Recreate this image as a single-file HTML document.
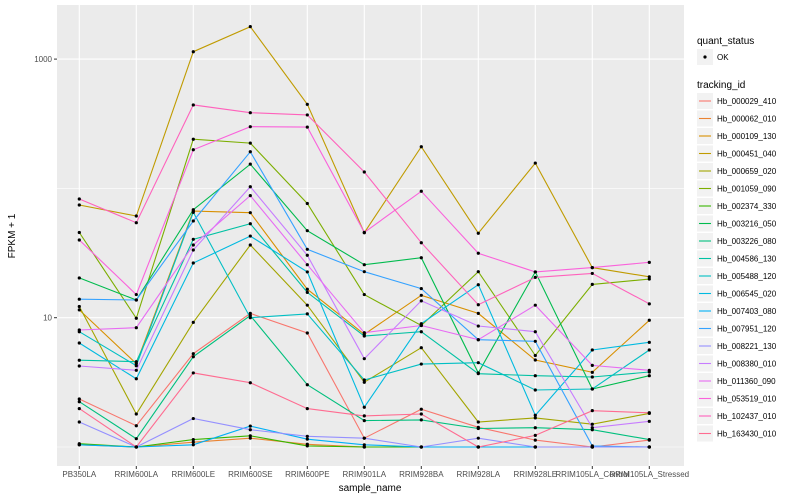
<!DOCTYPE html>
<html><head><meta charset="utf-8"><style>
html,body{margin:0;padding:0;background:#fff}
svg{display:block;font-family:"Liberation Sans",sans-serif}
</style></head><body>
<svg id="chart" width="800" height="500" xmlns="http://www.w3.org/2000/svg">
<rect x="0" y="0" width="800" height="500" fill="#fff"/>
<rect x="57" y="5" width="627" height="461" fill="#ebebeb"/>
<g id="grid"></g><g id="lines"></g><g id="points"></g><g id="axes"></g><g id="legend"></g>
</svg>
<script>
const categories = ["PB350LA","RRIM600LA","RRIM600LE","RRIM600SE","RRIM600PE","RRIM901LA","RRIM928BA","RRIM928LA","RRIM928LE","RRIM105LA_Control","RRIM105LA_Stressed"];
const seriesNames = ["Hb_000029_410","Hb_000062_010","Hb_000109_130","Hb_000451_040","Hb_000659_020","Hb_001059_090","Hb_002374_330","Hb_003216_050","Hb_003226_080","Hb_004586_130","Hb_005488_120","Hb_006545_020","Hb_007403_080","Hb_007951_120","Hb_008221_130","Hb_008380_010","Hb_011360_090","Hb_053519_010","Hb_102437_010","Hb_163430_010"];
const seriesColors = ["#F8766D","#EA8331","#D89000","#C09B00","#A3A500","#7CAE00","#39B600","#00BB4E","#00BF7D","#00C1A3","#00BFC4","#00BAE0","#00B0F6","#35A2FF","#9590FF","#C77CFF","#E76BF3","#FA62DB","#FF62BC","#FF6C91"];
const s00 = [2.35,1.46,5.27,10.8,7.62,1.17,1.96,1.42,1.13,1.0,1.13];
const s01 = [1.04,1.0,1.09,1.17,1.05,1.0,1.0,1.0,1.0,1.0,1.0];
const s02 = [11.5,4.41,66.8,64.9,16.6,7.44,14.9,10.8,4.71,3.78,9.55];
const s03 = [74.4,61.2,1140,1782,447,45.4,210,45,157,24.4,20.7];
const s04 = [12.2,1.80,9.21,36.5,12.5,3.17,5.86,1.56,1.68,1.50,1.82];
const s05 = [45.6,9.9,240,224,76.4,15.1,8.7,22.7,5.1,18.1,19.9];
const s06 = [1.06,1.0,1.14,1.22,1.02,1.0,1.0,1.0,1.0,1.0,1.0];
const s07 = [20.3,13.7,68.4,154,47.1,25.7,29.1,3.74,22.6,2.81,3.56];
const s08 = [2.24,1.16,4.99,10.4,3.03,1.60,1.62,1.39,1.41,1.36,1.14];
const s09 = [4.69,4.57,40.4,53.3,15.7,7.22,7.79,3.69,3.56,3.48,3.80];
const s10 = [7.79,4.25,65.3,10,10.7,3.30,4.38,4.49,2.76,2.81,5.63];
const s11 = [6.37,3.37,26.5,42.8,22.6,2.03,8.99,18,1.76,5.63,6.45];
const s12 = [1.04,1.0,1.04,1.45,1.15,1.04,1.0,1.0,1.0,1.0,1.0];
const s13 = [13.9,13.7,56,192,33.8,22.7,16.8,6.76,6.57,1.02,1.0];
const s14 = [1.56,1.0,1.66,1.36,1.21,1.17,1.0,1.17,1.0,1.0,1.0];
const s15 = [4.23,3.92,33.4,103,30.4,4.82,13.5,8.62,7.79,1.41,1.58];
const s16 = [8.03,8.37,36.5,87.9,25.7,7.66,8.7,6.76,12.5,4.28,3.92];
const s17 = [39.9,15.1,199,300,298,45.7,95,31.5,22.6,24.4,26.8];
const s18 = [82.8,54.3,442,385,370,134,38,12.6,20.5,22,12.8];
const s19 = [1.98,1.0,3.74,3.14,1.98,1.74,1.80,1.0,1.23,1.91,1.84];
const seriesValues = [s00,s01,s02,s03,s04,s05,s06,s07,s08,s09,s10,s11,s12,s13,s14,s15,s16,s17,s18,s19];
const yMajorTicks = [10,1000];
const yMajorLabels = ["10","1000"];
const yMinorTicks = [1,100];

const NS="http://www.w3.org/2000/svg";
const PX0=57,PX1=684,PY0=5,PY1=466;
function xPos(i){return 79.3+i*57;}
function yPos(v){return 447-129.3*Math.log10(v);}
function mk(tag,attrs,parent){const e=document.createElementNS(NS,tag);for(const k in attrs)e.setAttribute(k,attrs[k]);parent.appendChild(e);return e;}
const grid=document.getElementById('grid'),linesG=document.getElementById('lines'),ptsG=document.getElementById('points'),axes=document.getElementById('axes'),leg=document.getElementById('legend');

yMinorTicks.forEach(v=>{const l=mk('line',{x1:PX0,x2:PX1,y1:yPos(v),y2:yPos(v),stroke:'#fff','stroke-width':0.6},grid);

});
yMajorTicks.forEach((v,i)=>{const y=yPos(v);
const l=mk('line',{x1:PX0,x2:PX1,y1:y,y2:y,stroke:'#fff','stroke-width':1.1},grid);


const t=mk('line',{x1:PX0-3,x2:PX0,y1:y,y2:y,stroke:'#333','stroke-width':1},axes);


const tx=mk('text',{x:PX0-5,y:y+3,'text-anchor':'end','font-size':8,fill:'#4d4d4d'},axes);tx.textContent=yMajorLabels[i];

});
categories.forEach((c,i)=>{const x=xPos(i);
const l=mk('line',{x1:x,x2:x,y1:PY0,y2:PY1,stroke:'#fff','stroke-width':1.1},grid);


const t=mk('line',{x1:x,x2:x,y1:PY1,y2:PY1+3,stroke:'#333','stroke-width':1},axes);


const tx=mk('text',{x:x,y:PY1+11,'text-anchor':'middle','font-size':8,fill:'#4d4d4d'},axes);tx.textContent=c;

});
const xt=mk('text',{x:370,y:491,'text-anchor':'middle','font-size':10,fill:'#000'},axes);xt.textContent='sample_name';


const yt=mk('text',{x:0,y:0,transform:'translate(15,236) rotate(-90)','text-anchor':'middle','font-size':10,fill:'#000'},axes);yt.textContent='FPKM + 1';



seriesValues.forEach((vals,s)=>{
const d=vals.map((v,i)=>(i?'L':'M')+xPos(i).toFixed(1)+','+yPos(v).toFixed(1)).join(' ');
const p=mk('path',{d:d,fill:'none',stroke:seriesColors[s],'stroke-width':1.1},linesG);


vals.forEach((v,i)=>{const c=mk('circle',{cx:xPos(i),cy:yPos(v),r:1.6,fill:'#000'},ptsG);

});
});

const t1=mk('text',{x:697,y:44,'font-size':10,fill:'#000'},leg);t1.textContent='quant_status';


const kb=mk('rect',{x:697,y:49,width:16,height:16,fill:'#f2f2f2'},leg);


const kd=mk('circle',{cx:705,cy:57,r:1.6,fill:'#000'},leg);


const ok=mk('text',{x:717,y:60,'font-size':8,fill:'#000'},leg);ok.textContent='OK';


const t2=mk('text',{x:697,y:88,'font-size':10,fill:'#000'},leg);t2.textContent='tracking_id';


seriesNames.forEach((n,s)=>{const cy=101+s*17.5;
const r=mk('rect',{x:697,y:cy-8,width:16,height:16,fill:'#f2f2f2'},leg);


const l=mk('line',{x1:699,x2:711,y1:cy,y2:cy,stroke:seriesColors[s],'stroke-width':1.1},leg);


const tx=mk('text',{x:717,y:cy+3,'font-size':8,fill:'#000'},leg);tx.textContent=n;

});
</script>
</body></html>
